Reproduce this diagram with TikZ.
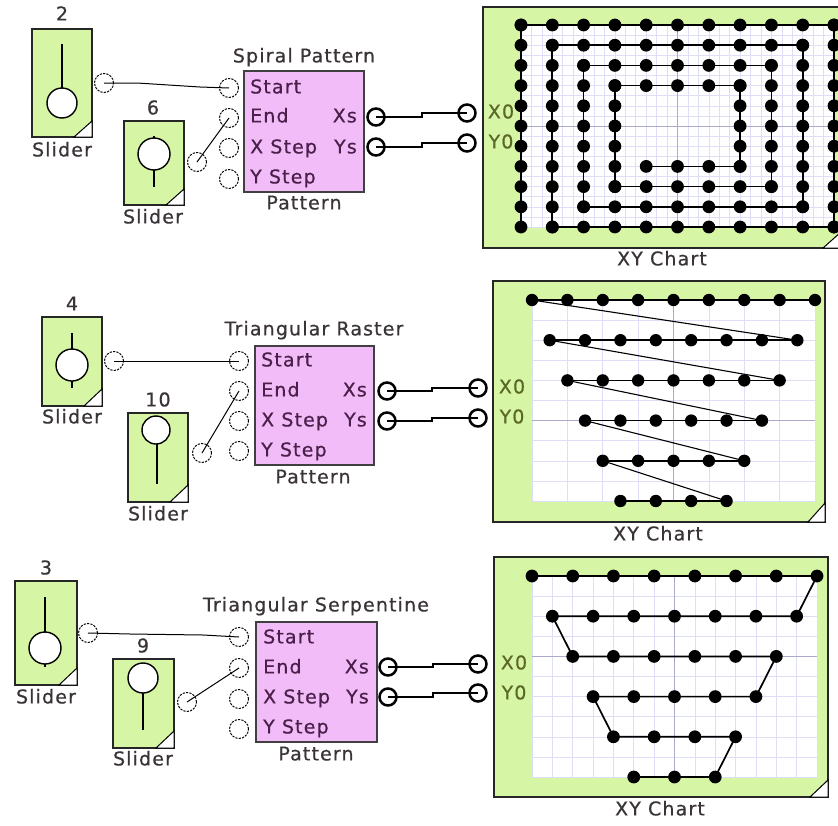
\documentclass[tikz,border=0pt]{standalone}
\usepackage{fontspec}
\setmainfont{DejaVu Sans}[LetterSpace=6, FakeBold=0.6]
\usetikzlibrary{calc}
\definecolor{sgreen}{RGB}{214,246,166}
\definecolor{ppink}{RGB}{242,188,248}
\definecolor{txtc}{RGB}{58,52,56}
\definecolor{ptxt}{RGB}{74,32,74}
\definecolor{gtxt}{RGB}{92,104,40}
\definecolor{gridc}{RGB}{222,222,246}
\definecolor{axisc}{RGB}{170,170,204}
\newcommand\cornertri[3]{\filldraw[corner] ($(#1.south east)+(-#2,0)$) -- (#1.south east) -- ($(#1.south east)+(0,-#3)$) -- cycle;}
\begin{document}
\begin{tikzpicture}[x=1pt,y=-1pt,
  lbl/.style={font=\fontsize{19}{22}\selectfont, text=txtc, inner sep=0pt, text height=1.5ex, text depth=.25ex},
  plbl/.style={lbl, text=ptxt},
  glbl/.style={lbl, text=gtxt},
  sliderbox/.style={draw=black!85, line width=1.4pt, fill=sgreen, inner sep=0pt, outer sep=0pt},
  patbox/.style={draw=black!75, line width=1.4pt, fill=ppink, inner sep=0pt, outer sep=0pt},
  chartbox/.style={draw=black!85, line width=1.4pt, fill=sgreen, inner sep=0pt, outer sep=0pt},
  inport/.style={circle, draw=black, line width=1pt, dash pattern=on 2.2pt off 1.2pt, fill=white, minimum size=19pt, inner sep=0pt},
  outport/.style={circle, draw=black, line width=2.5pt, fill=white, minimum size=17pt, inner sep=0pt},
  thinwire/.style={draw=black, line width=1pt},
  thickwire/.style={draw=black, line width=2.4pt},
  knob/.style={draw=black, line width=1.4pt, fill=white},
  track/.style={draw=black, line width=1.5pt},
  corner/.style={draw=black, line width=1pt, fill=white},
  gridline/.style={draw=gridc, line width=0.6pt},
  axisline/.style={draw=axisc, line width=0.9pt},
  plotline/.style={draw=black, line width=1.7pt},
  diagline/.style={draw=black, line width=1.1pt}
]
\useasboundingbox (0,0) rectangle (838,825);
\fill[white] (0,0) rectangle (838,825);

% ================= Row 1 : Spiral Pattern =================
\node[sliderbox, minimum width=60pt, minimum height=108pt] (sA1) at (62,83) {};
\draw[track] (62,44) -- (62,88);
\draw[knob] (62,103) circle[radius=15];
\cornertri{sA1}{18}{16}
\node[lbl] (vA1) at (62,17) {2};
\node[lbl] (nA1) at (62,153) {Slider};
\node[inport] (oA1) at (104,83) {};

\node[sliderbox, minimum width=60pt, minimum height=84pt] (sB1) at (154,163) {};
\draw[track] (154,136) -- (154,187);
\draw[knob] (154,154) circle[radius=16];
\cornertri{sB1}{18}{16}
\node[lbl] (vB1) at (153,111) {6};
\node[lbl] (nB1) at (153,220) {Slider};
\node[inport] (oB1) at (197,162) {};

\node[patbox, minimum width=120pt, minimum height=121pt] (P1) at (304,131.5) {};
\node[lbl] (tP1) at (304,59) {Spiral Pattern};
\node[lbl] (bP1) at (304,206) {Pattern};
\node[inport] (i1a) at (229,88) {};
\node[inport] (i1b) at (229,118) {};
\node[inport] (i1c) at (229,148) {};
\node[inport] (i1d) at (229,179) {};
\node[plbl, anchor=west] (l1a) at (250,90) {Start};
\node[plbl, anchor=west] (l1b) at (250,119) {End};
\node[plbl, anchor=west] (l1c) at (250,150) {X Step};
\node[plbl, anchor=west] (l1d) at (250,180) {Y Step};
\node[plbl, anchor=east] (l1x) at (357,119) {Xs};
\node[plbl, anchor=east] (l1y) at (357,150) {Ys};
\node[outport] (o1x) at (376,117) {};
\node[outport] (o1y) at (376,147) {};

\node[chartbox, minimum width=358pt, minimum height=241pt] (C1) at (662,127.5) {};
\fill[white] (521,25) rectangle (834,227);
\foreach \k in {0,...,30} \draw[gridline] ({521+\k*313/30},25) -- ({521+\k*313/30},227);
\foreach \k in {0,...,20} \draw[gridline] (521,{25+\k*10.1}) -- (834,{25+\k*10.1});
\draw[axisline] (677.5,25) -- (677.5,227);
\draw[axisline] (521,126) -- (834,126);
\draw[plotline] ({521+31.3*4},{25+20.2*7})
  \foreach \i/\j in {7/7,7/3,3/3,3/8,8/8,8/2,2/2,2/9,9/9,9/1,1/1,1/10,10/10,10/0,0/0,0/10} { -- ({521+31.3*\i},{25+20.2*\j}) };
\foreach \a/\b/\c/\d in {4/7/7/7,7/7/7/3,7/3/3/3,3/3/3/8,3/8/8/8,8/8/8/2,8/2/2/2,2/2/2/9,2/9/9/9,9/9/9/1,9/1/1/1,1/1/1/10,1/10/10/10,10/10/10/0,10/0/0/0,0/0/0/10} {
  \pgfmathtruncatemacro\n{max(abs(\c-\a),abs(\d-\b))}
  \foreach \t in {0,...,\n} \fill ({521+31.3*(\a+(\c-\a)*\t/\n)},{25+20.2*(\b+(\d-\b)*\t/\n)}) circle[radius=6.4];
}
\cornertri{C1}{18}{16}
\node[outport] (x1) at (467,113) {};
\node[outport] (y1) at (467,143) {};
\node[glbl] (tx1) at (501,115) {X0};
\node[glbl] (ty1) at (501,145) {Y0};
\node[lbl] (xy1) at (662,262) {XY Chart};

\draw[thinwire] (oA1.center) -- ++(33,0) -- ($(i1a.center)+(-29,-1)$) -- (i1a.center);
\draw[thinwire] (oB1.center) -- (i1b.center);
\draw[thickwire] (o1x.center) -- ++(46,0) |- (x1.center);
\draw[thickwire] (o1y.center) -- ++(46,0) |- (y1.center);

% ================= Row 2 : Triangular Raster =================
\node[sliderbox, minimum width=60pt, minimum height=89pt] (sA2) at (72,361.5) {};
\draw[track] (72,333) -- (72,388);
\draw[knob] (72,365) circle[radius=16];
\cornertri{sA2}{18}{17}
\node[lbl] (vA2) at (72,307) {4};
\node[lbl] (nA2) at (72,420) {Slider};
\node[inport] (oA2) at (114,361) {};

\node[sliderbox, minimum width=60pt, minimum height=89pt] (sB2) at (158,457.5) {};
\draw[track] (157,440) -- (157,484);
\draw[knob] (156,430) circle[radius=14];
\cornertri{sB2}{18}{17}
\node[lbl] (vB2) at (158,403) {10};
\node[lbl] (nB2) at (158,517) {Slider};
\node[inport] (oB2) at (202,453) {};

\node[patbox, minimum width=119pt, minimum height=119pt] (P2) at (314.5,405.5) {};
\node[lbl] (tP2) at (314,332) {Triangular Raster};
\node[lbl] (bP2) at (313,480) {Pattern};
\node[inport] (i2a) at (239,361) {};
\node[inport] (i2b) at (239,391) {};
\node[inport] (i2c) at (239,421) {};
\node[inport] (i2d) at (239,451) {};
\node[plbl, anchor=west] (l2a) at (261,363) {Start};
\node[plbl, anchor=west] (l2b) at (261,393) {End};
\node[plbl, anchor=west] (l2c) at (261,423) {X Step};
\node[plbl, anchor=west] (l2d) at (261,453) {Y Step};
\node[plbl, anchor=east] (l2x) at (367,393) {Xs};
\node[plbl, anchor=east] (l2y) at (367,423) {Ys};
\node[outport] (o2x) at (387,391) {};
\node[outport] (o2y) at (387,421) {};

\node[chartbox, minimum width=332pt, minimum height=241pt] (C2) at (659,401.5) {};
\fill[white] (532,300) rectangle (815,501);
\foreach \k in {0,...,8} \draw[gridline] ({532+\k*35.375},300) -- ({532+\k*35.375},501);
\foreach \k in {0,...,10} \draw[gridline] (532,{300+\k*20.1}) -- (815,{300+\k*20.1});
\draw[axisline] (673.5,300) -- (673.5,501);
\draw[axisline] (532,420.6) -- (815,420.6);
\foreach \r in {0,...,4} {
  \pgfmathtruncatemacro\m{7-\r}
  \draw[diagline] ({532+35.375*\r/2},{300+40.2*\r}) -- ({532+35.375*((\r+1)/2+\m)},{300+40.2*(\r+1)});
}
\foreach \r in {0,...,5} {
  \pgfmathtruncatemacro\m{8-\r}
  \draw[plotline] ({532+35.375*\r/2},{300+40.2*\r}) -- ({532+35.375*(\r/2+\m)},{300+40.2*\r});
  \foreach \k in {0,...,\m} \fill ({532+35.375*(\r/2+\k)},{300+40.2*\r}) circle[radius=6.2];
}
\cornertri{C2}{17}{19}
\node[outport] (x2) at (478,388) {};
\node[outport] (y2) at (478,418) {};
\node[glbl] (tx2) at (512,390) {X0};
\node[glbl] (ty2) at (512,420) {Y0};
\node[lbl] (xy2) at (658,537) {XY Chart};

\draw[thinwire] (oA2.center) -- (i2a.center);
\draw[thinwire] (oB2.center) -- (i2b.center);
\draw[thickwire] (o2x.center) -- ++(45,0) |- (x2.center);
\draw[thickwire] (o2y.center) -- ++(45,0) |- (y2.center);

% ================= Row 3 : Triangular Serpentine =================
\node[sliderbox, minimum width=62pt, minimum height=104pt] (sA3) at (46,633) {};
\draw[track] (45,597) -- (45,667);
\draw[knob] (45,648) circle[radius=16];
\cornertri{sA3}{18}{17}
\node[lbl] (vA3) at (46,571) {3};
\node[lbl] (nA3) at (46,700) {Slider};
\node[inport] (oA3) at (88,633) {};

\node[sliderbox, minimum width=61pt, minimum height=89pt] (sB3) at (143.5,703.5) {};
\draw[track] (143,690) -- (143,730);
\draw[knob] (143,678) circle[radius=15];
\cornertri{sB3}{18}{17}
\node[lbl] (vB3) at (143,649) {9};
\node[lbl] (nB3) at (143,762) {Slider};
\node[inport] (oB3) at (187,702) {};

\node[patbox, minimum width=121pt, minimum height=120pt] (P3) at (316.5,682) {};
\node[lbl] (tP3) at (316,608) {Triangular Serpentine};
\node[lbl] (bP3) at (316,757) {Pattern};
\node[inport] (i3a) at (239,637) {};
\node[inport] (i3b) at (239,668) {};
\node[inport] (i3c) at (239,699) {};
\node[inport] (i3d) at (239,729) {};
\node[plbl, anchor=west] (l3a) at (263,640) {Start};
\node[plbl, anchor=west] (l3b) at (263,670) {End};
\node[plbl, anchor=west] (l3c) at (263,700) {X Step};
\node[plbl, anchor=west] (l3d) at (263,730) {Y Step};
\node[plbl, anchor=east] (l3x) at (369,670) {Xs};
\node[plbl, anchor=east] (l3y) at (369,700) {Ys};
\node[outport] (o3x) at (388,667) {};
\node[outport] (o3y) at (388,697) {};

\node[chartbox, minimum width=334pt, minimum height=240pt] (C3) at (661,677) {};
\fill[white] (532,576) rectangle (817,777);
\foreach \k in {0,...,14} \draw[gridline] ({532+\k*20.357},576) -- ({532+\k*20.357},777);
\foreach \k in {0,...,10} \draw[gridline] (532,{576+\k*20.1}) -- (817,{576+\k*20.1});
\draw[axisline] (674.5,576) -- (674.5,777);
\draw[axisline] (532,656.4) -- (817,656.4);
\draw[plotline] ({532+40.714*0},{576+40.2*0})
  \foreach \h/\r in {7/0,6.5/1,0.5/1,1/2,6/2,5.5/3,1.5/3,2/4,5/4,4.5/5,2.5/5} { -- ({532+40.714*\h},{576+40.2*\r}) };
\foreach \r in {0,...,5} {
  \pgfmathtruncatemacro\m{7-\r}
  \foreach \k in {0,...,\m} \fill ({532+40.714*(\r/2+\k)},{576+40.2*\r}) circle[radius=6.4];
}
\cornertri{C3}{18}{17}
\node[outport] (x3) at (478,664) {};
\node[outport] (y3) at (478,693) {};
\node[glbl] (tx3) at (514,666) {X0};
\node[glbl] (ty3) at (514,696) {Y0};
\node[lbl] (xy3) at (660,812) {XY Chart};

\draw[thinwire] (oA3.center) -- ++(42,1) -- ($(i3a.center)+(-36,-2)$) -- (i3a.center);
\draw[thinwire] (oB3.center) -- (i3b.center);
\draw[thickwire] (o3x.center) -- ++(45,0) |- (x3.center);
\draw[thickwire] (o3y.center) -- ++(45,0) |- (y3.center);
\end{tikzpicture}
\end{document}
